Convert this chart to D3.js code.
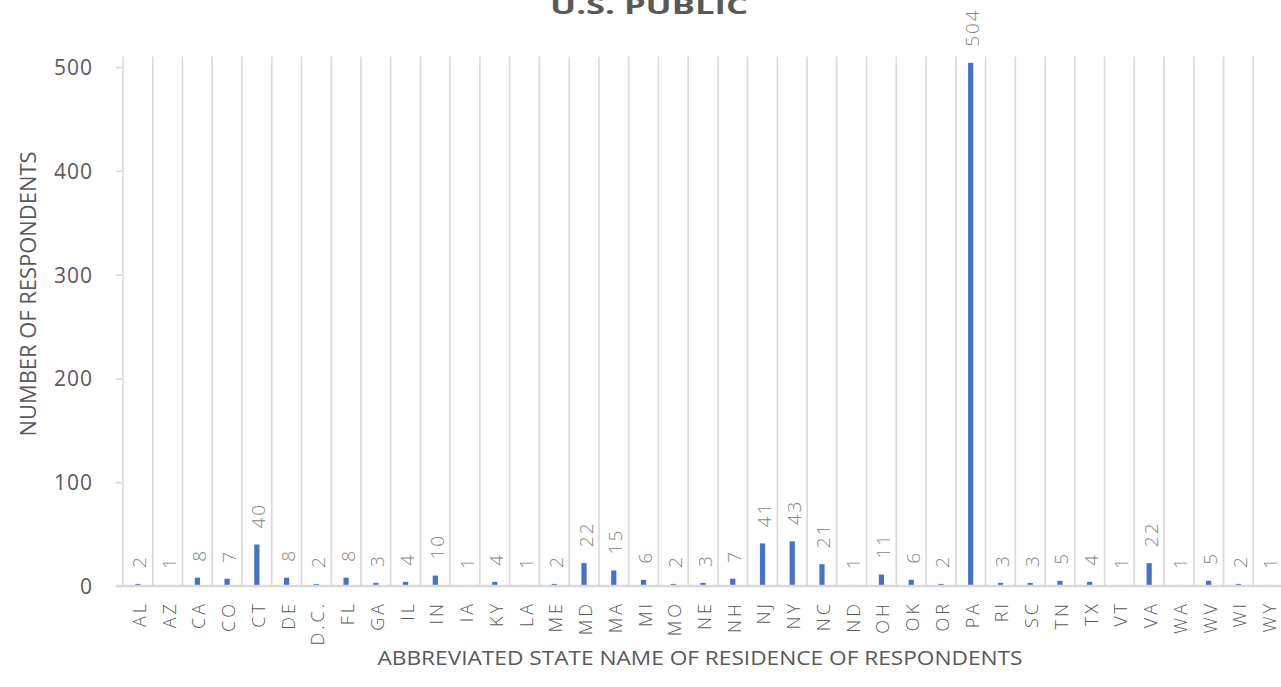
<!DOCTYPE html>
<html>
<head>
<meta charset="utf-8">
<script src="https://cdn.jsdelivr.net/npm/d3@7"></script>
<style>
  html, body { margin: 0; padding: 0; background: #ffffff; }
  svg { display: block; }
  text { font-family: "Open Sans", "Noto Sans", sans-serif; }
</style>
</head>
<body>
<svg id="chart" width="1281" height="687"></svg>
<script>
// Respondents by state of residence
const states = ["AL","AZ","CA","CO","CT","DE","D.C.","FL","GA","IL","IN","IA","KY","LA","ME","MD","MA","MI","MO","NE","NH","NJ","NY","NC","ND","OH","OK","OR","PA","RI","SC","TN","TX","VT","VA","WA","WV","WI","WY"];
const respondents = [2,1,8,7,40,8,2,8,3,4,10,1,4,1,2,22,15,6,2,3,7,41,43,21,1,11,6,2,504,3,3,5,4,1,22,1,5,2,1];
const yTicks = [0,100,200,300,400,500];

const titleText = "U.S. PUBLIC";
const xTitle = "ABBREVIATED STATE NAME OF RESIDENCE OF RESPONDENTS";
const yTitle = "NUMBER OF RESPONDENTS";

const svg = d3.select("#chart");

const plotLeft = 123, plotRight = 1283;
const x = d3.scaleBand().domain(states).range([plotLeft, plotRight]).paddingInner(0).paddingOuter(0);
const y = d3.scaleLinear().domain([0, 500]).range([586, 67]);

const gridColor = "#d9d9d9";
const textDark = "#595959";
const textLight = "#858585";
const barColor = "#4472c4";

// category separator lines (one at the left edge of each band)
const gridTop = y(510);
svg.append("g").selectAll("line")
  .data(states)
  .join("line")
  .attr("x1", d => x(d)).attr("x2", d => x(d))
  .attr("y1", y(0)).attr("y2", gridTop)
  .attr("stroke", gridColor).attr("stroke-width", 1.6);

// y axis ticks and labels
const yAxis = d3.axisLeft(y).tickValues(yTicks).tickSize(7).tickPadding(23);
const gy = svg.append("g").attr("transform", `translate(${plotLeft},0)`).call(yAxis);
gy.select(".domain").remove();
gy.selectAll(".tick line").attr("stroke", gridColor).attr("stroke-width", 1.6);
gy.selectAll(".tick text")
  .attr("fill", textDark)
  .style("font-size", "21px")
  .style("letter-spacing", "1px")
  .attr("dy", "0.36em");

// bars
const barW = 5.2;
svg.append("g").selectAll("rect")
  .data(states)
  .join("rect")
  .attr("x", (d) => x(d) + x.bandwidth() / 2 - barW / 2)
  .attr("width", barW)
  .attr("y", (d, i) => y(respondents[i]))
  .attr("height", (d, i) => y(0) - y(respondents[i]))
  .attr("fill", barColor);

// category axis baseline, drawn over the bar bases
svg.append("line")
  .attr("x1", plotLeft - 7).attr("x2", 1281)
  .attr("y1", y(0)).attr("y2", y(0))
  .attr("stroke", gridColor).attr("stroke-width", 2.6);

// value labels above bars
svg.append("g").selectAll("text")
  .data(states)
  .join("text")
  .attr("transform", (d, i) => `translate(${x(d) + x.bandwidth() / 2 + 1.5},${y(respondents[i]) - 16}) rotate(-90)`)
  .attr("text-anchor", "start")
  .attr("dominant-baseline", "central")
  .attr("fill", textLight)
  .style("font-size", "19px")
  .style("font-weight", "300")
  .style("letter-spacing", "2px")
  .text((d, i) => respondents[i]);

// category labels below the axis
svg.append("g").selectAll("text")
  .data(states)
  .join("text")
  .attr("transform", d => `translate(${x(d) + x.bandwidth() / 2 + 1},601) rotate(-90)`)
  .attr("text-anchor", "end")
  .attr("dominant-baseline", "central")
  .attr("fill", textDark)
  .style("font-size", "18px")
  .style("font-weight", "300")
  .style("letter-spacing", "3px")
  .text(d => d);

// axis titles
svg.append("text")
  .attr("x", 700).attr("y", 665)
  .attr("text-anchor", "middle")
  .attr("fill", textDark)
  .attr("textLength", 645).attr("lengthAdjust", "spacingAndGlyphs")
  .style("font-size", "20px")
  .text(xTitle);

svg.append("text")
  .attr("transform", "translate(27,294) rotate(-90)")
  .attr("text-anchor", "middle")
  .attr("dominant-baseline", "central")
  .attr("fill", textDark)
  .attr("textLength", 285).attr("lengthAdjust", "spacingAndGlyphs")
  .style("font-size", "22px")
  .text(yTitle);

// chart title (runs off the top edge)
svg.append("text")
  .attr("x", 649).attr("y", 14)
  .attr("text-anchor", "middle")
  .attr("fill", textDark)
  .attr("textLength", 198).attr("lengthAdjust", "spacingAndGlyphs")
  .style("font-size", "24px")
  .style("font-weight", "bold")
  .text(titleText);
</script>
</body>
</html>
